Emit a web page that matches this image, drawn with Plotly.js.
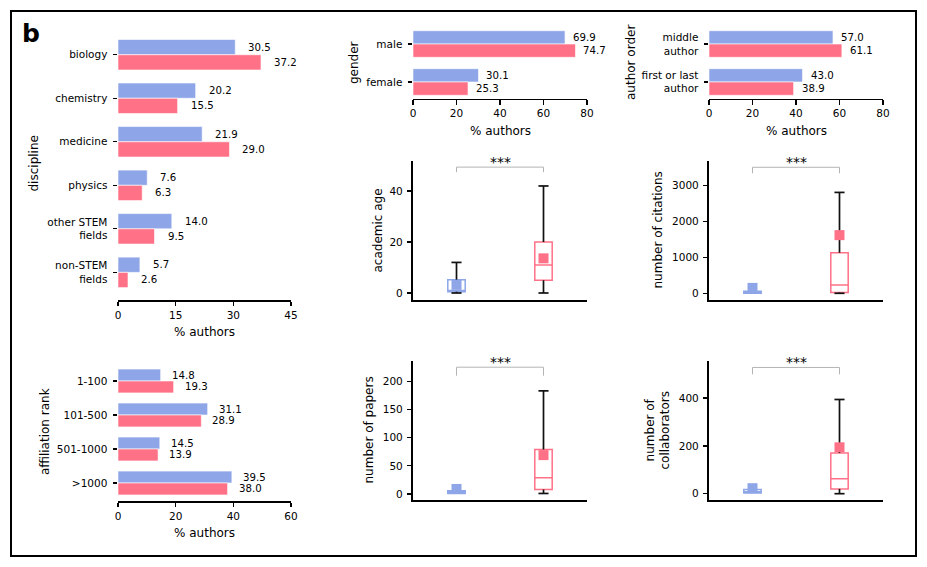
<!DOCTYPE html>
<html>
<head>
<meta charset="utf-8">
<script src="https://cdn.plot.ly/plotly-3.0.1.min.js"></script>
<style>html,body{margin:0;padding:0;background:#fff;}#chart{width:927px;height:567px;}</style>
</head>
<body>
<div id="chart"></div>
<script>
// ---------- data ----------
const disciplines = ['biology', 'chemistry', 'medicine', 'physics', 'other STEM<br>fields', 'non-STEM<br>fields'];
const disciplineBlue = [30.5, 20.2, 21.9, 7.6, 14.0, 5.7];
const disciplineRed  = [37.2, 15.5, 29.0, 6.3, 9.5, 2.6];

const genders = ['male', 'female'];
const genderBlue = [69.9, 30.1];
const genderRed  = [74.7, 25.3];

const authorOrders = ['middle<br>author', 'first or last<br>author'];
const authorBlue = [57.0, 43.0];
const authorRed  = [61.1, 38.9];

const ranks = ['1-100', '101-500', '501-1000', '>1000'];
const rankBlue = [14.8, 31.1, 14.5, 39.5];
const rankRed  = [19.3, 28.9, 13.9, 38.0];

// box statistics: [lower whisker, q1, median, q3, upper whisker, mean]
const ageBlue = [0, 0.5, 1, 5.2, 12, 3.2];
const ageRed  = [0, 5, 11, 20, 42, 13.6];
const citationsBlue = [2, 2, 15, 55, 55, 150];
const citationsRed  = [0, 20, 230, 1130, 2810, 1620];
const papersBlue = [1, 1, 3, 6, 6, 9];
const papersRed  = [1, 8, 29, 79, 183, 69];
const collabBlue = [3, 3, 8, 17, 17, 23];
const collabRed  = [0, 20, 63, 170, 394, 194];

const significance = ['***', '***', '***', '***'];

// ---------- style ----------
const BLUE = '#8ea6e8';
const RED = '#ff7187';
const FONT = 'DejaVu Sans, Liberation Sans, sans-serif';
const W = 927, H = 567;
const px = x => x / W;
const py = y => 1 - y / H;

const traces = [];
const annotations = [];
const shapes = [];
const layout = {
  width: W, height: H,
  margin: {l: 0, r: 0, t: 0, b: 0},
  paper_bgcolor: '#fff', plot_bgcolor: 'rgba(0,0,0,0)',
  showlegend: false, barmode: 'overlay', hovermode: false,
  font: {family: FONT, size: 10.5, color: '#000'},
  annotations: annotations, shapes: shapes
};

function barPanel(n, cats, blue, red, xmax, xticks, dom, labelShift) {
  const xa = 'xaxis' + (n === 1 ? '' : n), ya = 'yaxis' + (n === 1 ? '' : n);
  const xr = 'x' + (n === 1 ? '' : n), yr = 'y' + (n === 1 ? '' : n);
  const idx = cats.map((c, i) => i);
  const m = 0.05 * (cats.length - 1 + 0.7);
  layout[xa] = {
    domain: [px(dom[0]), px(dom[1])], anchor: yr, range: [0, xmax],
    tickvals: xticks, ticks: 'outside', ticklen: 4.5, tickwidth: 1.3, tickcolor: '#000',
    showline: true, linewidth: 1.6, linecolor: '#000', showgrid: false, zeroline: false,
    tickfont: {size: 10.5}
  };
  layout[ya] = {
    domain: [py(dom[3]), py(dom[2])], anchor: xr,
    range: [cats.length - 1 + 0.35 + m, -0.35 - m],
    tickvals: idx, ticktext: cats, ticks: 'outside', ticklen: 4.5, tickwidth: 1.3, tickcolor: '#000',
    ticklabelstandoff: 3,
    showline: false, showgrid: false, zeroline: false, tickfont: {size: 10.5}
  };
  [[blue, BLUE, -0.35, -0.175], [red, RED, 0, 0.175]].forEach(([vals, col, off, dy]) => {
    traces.push({
      type: 'bar', orientation: 'h', xaxis: xr, yaxis: yr,
      x: vals, y: idx, width: 0.35, offset: off,
      marker: {color: col, line: {color: '#fff', width: 0.6}}, hoverinfo: 'skip'
    });
    vals.forEach((v, i) => annotations.push({
      xref: xr, yref: yr, x: v, y: i + dy, text: v.toFixed(1),
      showarrow: false, xanchor: 'left', yanchor: 'middle', xshift: labelShift,
      font: {size: 10.2, family: FONT, color: '#000'}
    }));
  });
}

function boxPanel(n, blue, red, yrange, yticks, dom, bracket, bracketEnd, sig) {
  const xa = 'xaxis' + n, ya = 'yaxis' + n, xr = 'x' + n, yr = 'y' + n;
  layout[xa] = {
    domain: [px(dom[0]), px(dom[1])], anchor: yr, range: [-0.5, 1.5],
    showticklabels: false, ticks: '', showline: true, linewidth: 1.6, linecolor: '#000',
    showgrid: false, zeroline: false
  };
  layout[ya] = {
    domain: [py(dom[3]), py(dom[2])], anchor: xr, range: yrange,
    tickvals: yticks, ticks: 'outside', ticklen: 4.5, tickwidth: 1.3, tickcolor: '#000',
    ticklabelstandoff: 2,
    showline: true, linewidth: 1.6, linecolor: '#000', showgrid: false, zeroline: false,
    tickfont: {size: 10.5}
  };
  const cap = 0.058;
  [[blue, BLUE, 0], [red, RED, 1]].forEach(([s, col, pos]) => {
    traces.push({
      type: 'box', xaxis: xr, yaxis: yr, x: [pos],
      q1: [s[1]], median: [s[2]], q3: [s[3]], lowerfence: [s[1]], upperfence: [s[3]],
      width: 0.2, whiskerwidth: 0, boxpoints: false,
      line: {color: col, width: 1.5}, fillcolor: 'rgba(255,255,255,0)', hoverinfo: 'skip'
    });
    const wx = [], wy = [];
    if (s[4] > s[3]) { wx.push(pos, pos, null, pos - cap, pos + cap, null); wy.push(s[3], s[4], null, s[4], s[4], null); }
    if (s[0] < s[1]) { wx.push(pos, pos, null, pos - cap, pos + cap, null); wy.push(s[1], s[0], null, s[0], s[0], null); }
    if (wx.length) traces.push({
      type: 'scatter', mode: 'lines', xaxis: xr, yaxis: yr, x: wx, y: wy,
      line: {color: '#111', width: 1.7}, hoverinfo: 'skip', connectgaps: false, cliponaxis: false
    });
  });
  [[blue, BLUE, 0], [red, RED, 1]].forEach(([s, col, pos]) => {
    traces.push({
      type: 'scatter', mode: 'markers', xaxis: xr, yaxis: yr, x: [pos], y: [s[5]],
      marker: {symbol: 'square', size: 10, color: col}, hoverinfo: 'skip', cliponaxis: false
    });
  });
  shapes.push({
    type: 'path', xref: xr, yref: yr,
    path: `M0,${bracketEnd} L0,${bracket} L1,${bracket} L1,${bracketEnd}`,
    line: {color: '#b4b4b4', width: 1}
  });
  annotations.push({
    xref: xr, yref: yr, x: 0.5, y: bracket, text: sig, showarrow: false,
    xanchor: 'center', yanchor: 'middle', yshift: 5, font: {size: 14, family: FONT, color: '#000'}
  });
}

barPanel(1, disciplines, disciplineBlue, disciplineRed, 45, [0, 15, 30, 45], [118, 291, 27.1, 300], 11);
barPanel(2, genders, genderBlue, genderRed, 80, [0, 20, 40, 60, 80], [413, 587, 27.5, 98.5], 6);
barPanel(3, authorOrders, authorBlue, authorRed, 80, [0, 20, 40, 60, 80], [709, 883, 27.5, 98.5], 6);
barPanel(4, ranks, rankBlue, rankRed, 60, [0, 20, 40, 60], [118, 291, 362.8, 501.2], 9);

boxPanel(5, ageBlue, ageRed, [-2.75, 51.8], [0, 20, 40], [413, 587, 161, 300], 49.4, 47.4, significance[0]);
boxPanel(6, citationsBlue, citationsRed, [-187, 3685], [0, 1000, 2000, 3000], [709, 883, 161, 300], 3510, 3343, significance[1]);
boxPanel(7, papersBlue, papersRed, [-10.6, 236], [0, 50, 100, 150, 200], [413, 587, 361, 500], 225, 210, significance[2]);
boxPanel(8, collabBlue, collabRed, [-26.4, 555], [0, 200, 400], [709, 883, 361, 500], 528, 499, significance[3]);

// axis titles (placed in pixels)
function title(text, x, y, rot) {
  annotations.push({
    xref: 'paper', yref: 'paper', x: px(x), y: py(y), text: text, showarrow: false,
    xanchor: 'center', yanchor: 'middle', textangle: rot ? -90 : 0,
    font: {size: 12, family: FONT, color: '#000'}
  });
}
title('% authors', 204.5, 332, false);
title('% authors', 500, 131, false);
title('% authors', 796, 131, false);
title('% authors', 204.5, 533, false);
title('discipline', 33, 163.5, true);
title('gender', 354, 63, true);
title('author order', 631, 63, true);
title('affiliation rank', 45, 432, true);
title('academic age', 377, 230.5, true);
title('number of citations', 657, 230.5, true);
title('number of papers', 368, 430.5, true);
title('number of<br>collaborators', 657, 430.5, true);

annotations.push({
  xref: 'paper', yref: 'paper', x: px(19.5), y: py(17), text: '<b>b</b>', showarrow: false,
  xanchor: 'left', yanchor: 'top', font: {size: 25, family: FONT, color: '#000'}
});

shapes.push({
  type: 'rect', xref: 'paper', yref: 'paper', x0: px(11), x1: px(916), y0: py(556), y1: py(11),
  line: {color: '#000', width: 2}, fillcolor: 'rgba(0,0,0,0)', layer: 'below'
});

Plotly.newPlot('chart', traces, layout, {staticPlot: true, displayModeBar: false});
</script>
</body>
</html>
